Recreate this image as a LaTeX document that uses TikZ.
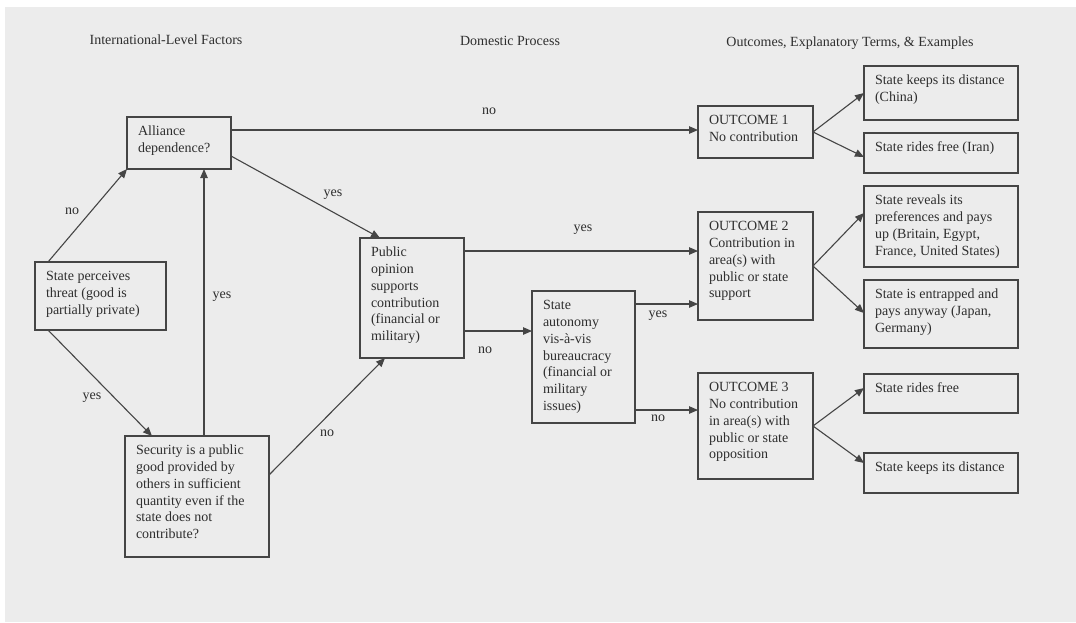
\documentclass[tikz,border=0pt]{standalone}
\usepackage{fontspec}
\setmainfont{Liberation Serif}
\usetikzlibrary{arrows.meta}
\definecolor{bg}{HTML}{ECECEC}
\definecolor{ink}{HTML}{2E2E2E}
\definecolor{edge}{HTML}{454545}
\newcommand{\bxtext}[3]{\parbox[c][#2][t]{#1}{\raggedright\strut #3}}
\begin{document}
\begin{tikzpicture}[x=1pt,y=-1pt,
  every node/.style={font=\rmfamily\fontsize{14}{16.8}\selectfont, text=ink},
  bx/.style={draw=edge, line width=1.1pt, anchor=north west, inner xsep=11pt, inner ysep=7pt, outer sep=0pt, fill=bg},
  lbl/.style={inner sep=0pt},
  hdr/.style={inner sep=0pt},
  arr/.style={draw=edge, line width=1.1pt, -{Triangle[length=9pt,width=7.5pt]}},
]
\useasboundingbox (0,0) rectangle (1076,622);
\fill[white] (0,0) rectangle (1076,622);
\fill[bg] (5,7) rectangle (1076,622);

% headers
\node[hdr] (h1) at (166,40) {International-Level Factors};
\node[hdr] (h2) at (510,41) {Domestic Process};
\node[hdr] (h3) at (850,43) {Outcomes, Explanatory Terms, \& Examples};

% boxes
\node[bx] (all) at (127,117) {\bxtext{82pt}{38pt}{Alliance\\dependence?}};
\node[bx] (thr) at (35,262) {\bxtext{109pt}{54pt}{State perceives\\threat (good is\\partially private)}};
\node[bx] (sec) at (125,436) {\bxtext{122pt}{107pt}{Security is a public\\good provided by\\others in sufficient\\quantity even if the\\state does not\\contribute?}};
\node[bx] (pub) at (360,238) {\bxtext{82pt}{106pt}{Public\\opinion\\supports\\contribution\\(financial or\\military)}};
\node[bx] (aut) at (532,291) {\bxtext{81pt}{118pt}{State\\autonomy\\vis-à-vis\\bureaucracy\\(financial or\\military\\issues)}};
\node[bx] (o1) at (698,106) {\bxtext{93pt}{38pt}{OUTCOME 1\\No contribution}};
\node[bx] (o2) at (698,212) {\bxtext{93pt}{94pt}{OUTCOME 2\\Contribution in\\area(s) with\\public or state\\support}};
\node[bx] (o3) at (698,373) {\bxtext{93pt}{92pt}{OUTCOME 3\\No contribution\\in area(s) with\\public or state\\opposition}};
\node[bx] (r1) at (864,66) {\bxtext{132pt}{40pt}{State keeps its distance\\(China)}};
\node[bx] (r2) at (864,133) {\bxtext{132pt}{26pt}{State rides free (Iran)}};
\node[bx] (r3) at (864,186) {\bxtext{132pt}{67pt}{State reveals its\\preferences and pays\\up (Britain, Egypt,\\France, United States)}};
\node[bx] (r4) at (864,280) {\bxtext{132pt}{54pt}{State is entrapped and\\pays anyway (Japan,\\Germany)}};
\node[bx] (r5) at (864,374) {\bxtext{132pt}{25pt}{State rides free}};
\node[bx] (r6) at (864,453) {\bxtext{132pt}{26pt}{State keeps its distance}};

% connectors
\draw[arr] ([xshift=13pt]thr.north west) -- (all.south west);
\draw[arr] ([xshift=13pt]thr.south west) -- ([xshift=27pt]sec.north west);
\draw[arr] ([xshift=79pt]sec.north west) -- ([xshift=77pt]all.south west);
\draw[arr] ([yshift=-39pt]all.north east) -- ([xshift=20pt]pub.north west);
\draw[arr] ([yshift=-13pt]all.north east) coordinate (a1) -- (a1 -| o1.west);
\draw[arr] ([yshift=-39pt]sec.north east) -- ([xshift=25pt]pub.south west);
\draw[arr] ([yshift=-13pt]pub.north east) coordinate (p1) -- (p1 -| o2.west);
\draw[arr] ([yshift=27pt]pub.south east) coordinate (p2) -- (p2 -| aut.west);
\draw[arr] ([yshift=-13pt]aut.north east) coordinate (s1) -- (s1 -| o2.west);
\draw[arr] ([yshift=13pt]aut.south east) coordinate (s2) -- (s2 -| o3.west);
\draw[arr] (o1.east) -- (r1.west);
\draw[arr] (o1.east) -- ([yshift=-24pt]r2.north west);
\draw[arr] (o2.east) -- ([yshift=-27pt]r3.north west);
\draw[arr] (o2.east) -- ([yshift=-33pt]r4.north west);
\draw[arr] (o3.east) -- ([yshift=-14pt]r5.north west);
\draw[arr] (o3.east) -- ([yshift=-10pt]r6.north west);

% labels
\node[lbl] (l1) at (72,211) {no};
\node[lbl] (l2) at (92,398) {yes};
\node[lbl] (l3) at (222,297) {yes};
\node[lbl] (l4) at (333,195) {yes};
\node[lbl] (l5) at (489,111) {no};
\node[lbl] (l6) at (327,433) {no};
\node[lbl] (l7) at (583,230) {yes};
\node[lbl] (l8) at (485,350) {no};
\node[lbl] (l9) at (658,316) {yes};
\node[lbl] (l10) at (658,418) {no};
\end{tikzpicture}
\end{document}
